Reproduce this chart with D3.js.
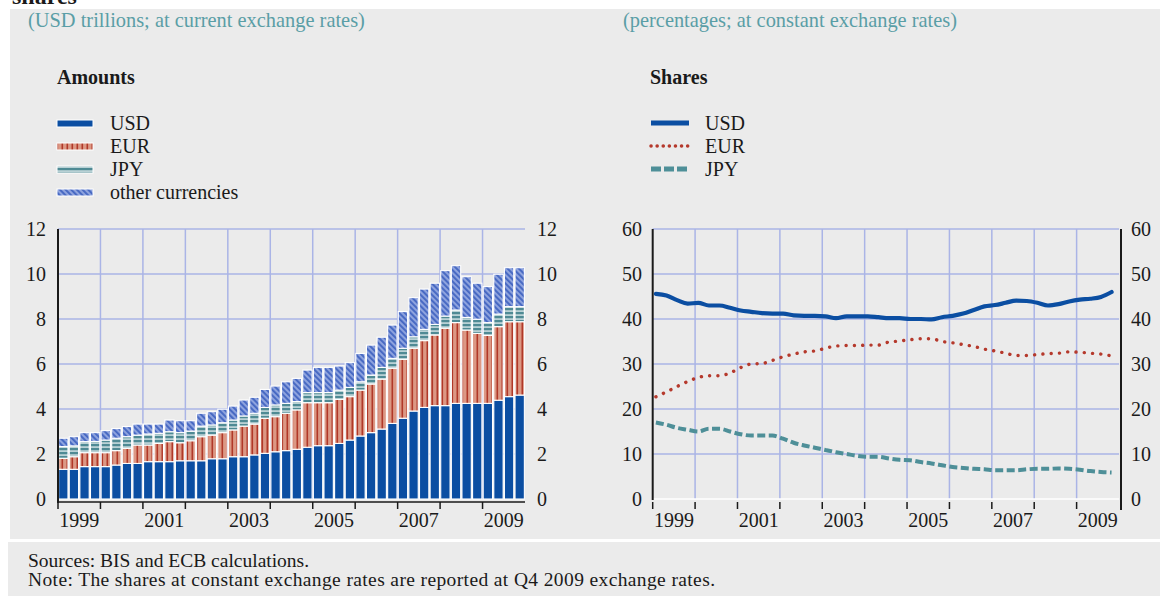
<!DOCTYPE html>
<html>
<head>
<meta charset="utf-8">
<script src="https://cdn.jsdelivr.net/npm/d3@7"></script>
<style>
  body { margin: 0; background: #fff; }
  svg { display: block; font-family: "Liberation Serif", "DejaVu Serif", serif; }
</style>
</head>
<body>
<div id="chart"></div>
<script>
// ---- data ----
var years = [1999, 2000, 2001, 2002, 2003, 2004, 2005, 2006, 2007, 2008, 2009];
var yearLabels = ["1999", "2001", "2003", "2005", "2007", "2009"];
var quarters = [];
years.forEach(y => [1, 2, 3, 4].forEach(q => quarters.push(y + "Q" + q)));

// amounts, USD trillions (stacked)
var amtUSD = [1.32,1.32,1.44,1.44, 1.44,1.51,1.58,1.58, 1.66,1.66,1.66,1.70, 1.70,1.70,1.79,1.79,
              1.88,1.88,1.96,2.03, 2.10,2.15,2.21,2.30, 2.37,2.37,2.47,2.62, 2.80,2.95,3.11,3.36,
              3.59,3.91,4.07,4.15, 4.15,4.25,4.25,4.25, 4.25,4.39,4.55,4.62];
var amtEUR = [0.49,0.56,0.62,0.62, 0.62,0.64,0.67,0.82, 0.74,0.81,0.89,0.80, 0.89,1.07,1.05,1.16,
              1.19,1.36,1.37,1.56, 1.56,1.66,1.75,1.98, 1.91,1.91,1.96,1.93, 2.04,2.16,2.22,2.45,
              2.62,2.79,2.97,3.14, 3.44,3.59,3.26,3.11, 3.02,3.27,3.33,3.26];
var amtJPY = [0.52,0.48,0.49,0.50, 0.56,0.55,0.52,0.44, 0.49,0.45,0.44,0.45, 0.43,0.47,0.45,0.44,
              0.44,0.45,0.48,0.48, 0.52,0.44,0.37,0.45, 0.45,0.45,0.41,0.41, 0.37,0.40,0.52,0.44,
              0.49,0.51,0.50,0.47, 0.54,0.56,0.56,0.63, 0.57,0.56,0.67,0.67];
var amtOther = [0.37,0.41,0.40,0.39, 0.42,0.43,0.45,0.49, 0.44,0.41,0.52,0.53, 0.46,0.57,0.59,0.60,
                0.62,0.71,0.71,0.80, 0.84,0.96,1.03,1.00, 1.12,1.12,1.07,1.10, 1.26,1.33,1.34,1.48,
                1.63,1.74,1.79,1.83, 2.02,1.97,1.81,1.60, 1.60,1.77,1.73,1.73];

// shares, % at constant exchange rates
var shUSD = [45.6,45.2,44.2,43.4, 43.6,43.0,43.0,42.5, 41.9,41.6,41.3,41.2, 41.2,40.8,40.7,40.7,
             40.6,40.2,40.6,40.6, 40.6,40.4,40.2,40.2, 40.0,40.0,39.9,40.4, 40.7,41.2,42.0,42.8,
             43.1,43.6,44.1,44.0, 43.6,43.0,43.3,43.9, 44.3,44.5,44.9,46.0];
var shEUR = [22.7,23.8,25.0,26.1, 27.0,27.4,27.4,28.0, 29.2,30.0,30.1,30.8, 31.6,32.2,32.7,32.9,
             33.5,34.0,34.1,34.1, 34.2,34.2,34.9,35.1, 35.4,35.6,35.6,35.0, 34.7,34.3,33.9,33.3,
             32.9,32.4,31.9,31.9, 32.1,32.3,32.4,32.7, 32.6,32.4,32.2,31.8];
var shJPY = [17.0,16.5,15.8,15.4, 15.0,15.6,15.6,15.0, 14.4,14.1,14.1,14.1, 13.4,12.5,11.9,11.4,
             10.9,10.4,10.0,9.6, 9.4,9.4,9.0,8.7, 8.6,8.2,7.9,7.5, 7.1,6.9,6.7,6.6,
             6.4,6.4,6.4,6.6, 6.7,6.7,6.8,6.7, 6.5,6.2,6.0,5.9];

var leftTicks = [0, 2, 4, 6, 8, 10, 12];
var rightTicks = [0, 10, 20, 30, 40, 50, 60];

// ---- canvas ----
var width = 1160, height = 596;
var svg = d3.select("#chart").append("svg")
    .attr("width", width)
    .attr("height", height);

var grid = "#aab4e6", ink = "#1a1a1a", teal = "#5a9ea6";
var blue = "#0b4ea2", red = "#b5392c", jpyTeal = "#4e8f98";
var fs = 20;

// patterns
var defs = svg.append("defs");
var pEur = defs.append("pattern").attr("id", "pEur").attr("patternUnits", "userSpaceOnUse")
    .attr("width", 5).attr("height", 5);
pEur.append("rect").attr("width", 5).attr("height", 5).attr("fill", "#dc9884");
pEur.append("rect").attr("x", 1.5).attr("width", 1.6).attr("height", 5).attr("fill", "#b03828");

var pJpy = defs.append("pattern").attr("id", "pJpy").attr("patternUnits", "userSpaceOnUse")
    .attr("width", 4).attr("height", 4);
pJpy.append("rect").attr("width", 4).attr("height", 4).attr("fill", "#b9d1d5");
pJpy.append("rect").attr("y", 0).attr("width", 4).attr("height", 2.2).attr("fill", "#4f8a94");

var pOth = defs.append("pattern").attr("id", "pOth").attr("patternUnits", "userSpaceOnUse")
    .attr("width", 4).attr("height", 4).attr("patternTransform", "rotate(-45)");
pOth.append("rect").attr("width", 4).attr("height", 4).attr("fill", "#8ea3de");
pOth.append("rect").attr("width", 1.9).attr("height", 4).attr("fill", "#4567c2");

// background panels
svg.append("text").attr("x", 12).attr("y", 4)
    .attr("font-size", 24).attr("font-weight", "bold").attr("fill", ink).text("shares");
svg.append("rect").attr("x", 10).attr("y", 9).attr("width", 1150).attr("height", 530).attr("fill", "#ebebeb");
svg.append("rect").attr("x", 8).attr("y", 542).attr("width", 1152).attr("height", 54).attr("fill", "#ebebeb");

var yTop = 229, yBot = 499;

// ---- left: amounts ----
var xL = d3.scaleLinear().domain([1999, 2010]).range([58, 525]);
var xB = d3.scaleBand().domain(quarters).range([58, 525]).paddingInner(0.12).paddingOuter(0.06);
var yL = d3.scaleLinear().domain([0, 12]).range([yBot, yTop]);

var gL = svg.append("g");
gL.selectAll("line.h").data(leftTicks.slice(1)).join("line")
    .attr("x1", 58).attr("x2", 525).attr("y1", d => yL(d)).attr("y2", d => yL(d))
    .attr("stroke", grid).attr("stroke-width", 1.5);
gL.selectAll("line.v").data(years.slice(1)).join("line")
    .attr("x1", d => xL(d)).attr("x2", d => xL(d)).attr("y1", yTop).attr("y2", yBot)
    .attr("stroke", grid).attr("stroke-width", 1.5);

var stackData = quarters.map((q, i) => ({q: q, usd: amtUSD[i], eur: amtEUR[i], jpy: amtJPY[i], oth: amtOther[i]}));
var series = d3.stack().keys(["usd", "eur", "jpy", "oth"])(stackData);
var fills = {usd: blue, eur: "url(#pEur)", jpy: "url(#pJpy)", oth: "url(#pOth)"};

gL.selectAll("g.s").data(series).join("g")
    .attr("fill", d => fills[d.key])
  .selectAll("rect").data(d => d).join("rect")
    .attr("x", d => xB(d.data.q))
    .attr("width", xB.bandwidth())
    .attr("y", d => yL(d[1]))
    .attr("height", d => yL(d[0]) - yL(d[1]))
    .attr("stroke", "#fff").attr("stroke-width", 1.1);

gL.append("line").attr("x1", 58).attr("x2", 525).attr("y1", 502).attr("y2", 502)
    .attr("stroke", ink).attr("stroke-width", 1.5);
gL.selectAll("line.t").data(years).join("line")
    .attr("x1", d => xL(d)).attr("x2", d => xL(d)).attr("y1", 502).attr("y2", 509)
    .attr("stroke", ink).attr("stroke-width", 1.5);
gL.append("line").attr("x1", 58).attr("x2", 58).attr("y1", yTop).attr("y2", 503)
    .attr("stroke", ink).attr("stroke-width", 2);

gL.selectAll("text.yl").data(leftTicks).join("text")
    .attr("x", 46).attr("y", d => yL(d)).attr("dy", "0.35em").attr("text-anchor", "end")
    .attr("font-size", fs).attr("fill", ink).text(d => d);
gL.selectAll("text.yr").data(leftTicks).join("text")
    .attr("x", 537).attr("y", d => yL(d)).attr("dy", "0.35em")
    .attr("font-size", fs).attr("fill", ink).text(d => d);
gL.selectAll("text.x").data(yearLabels).join("text")
    .attr("x", d => xL(+d + 0.5)).attr("y", 527).attr("text-anchor", "middle")
    .attr("font-size", fs).attr("fill", ink).text(d => d);

// ---- right: shares ----
var xR = d3.scaleLinear().domain([1999, 2010]).range([652.7, 1119]);
var yR = d3.scaleLinear().domain([0, 60]).range([yBot, yTop]);

var gR = svg.append("g");
gR.selectAll("line.h").data(rightTicks.slice(1)).join("line")
    .attr("x1", 652.7).attr("x2", 1119).attr("y1", d => yR(d)).attr("y2", d => yR(d))
    .attr("stroke", grid).attr("stroke-width", 1.5);
gR.selectAll("line.v").data(years.slice(1)).join("line")
    .attr("x1", d => xR(d)).attr("x2", d => xR(d)).attr("y1", yTop).attr("y2", yBot)
    .attr("stroke", grid).attr("stroke-width", 1.5);
gR.append("line").attr("x1", 652.7).attr("x2", 1119).attr("y1", yBot).attr("y2", yBot)
    .attr("stroke", "#fff").attr("stroke-width", 1.5);

var qx = (d, i) => xR(1999 + (i + 0.3) / 4);
var line = d3.line().x(qx).y(d => yR(d)).curve(d3.curveMonotoneX);

gR.append("path").attr("d", line(shJPY)).attr("fill", "none")
    .attr("stroke", jpyTeal).attr("stroke-width", 4).attr("stroke-dasharray", "8 3.5");
gR.append("path").attr("d", line(shEUR)).attr("fill", "none")
    .attr("stroke", red).attr("stroke-width", 3.4).attr("stroke-linecap", "round")
    .attr("stroke-dasharray", "0.1 8.2");
gR.append("path").attr("d", line(shUSD)).attr("fill", "none")
    .attr("stroke", blue).attr("stroke-width", 4.2).attr("stroke-linecap", "round");

gR.selectAll("line.t").data(years).join("line")
    .attr("x1", d => xR(d)).attr("x2", d => xR(d)).attr("y1", 502).attr("y2", 509)
    .attr("stroke", ink).attr("stroke-width", 1.5);
gR.append("line").attr("x1", 652.7).attr("x2", 652.7).attr("y1", yTop).attr("y2", 500)
    .attr("stroke", ink).attr("stroke-width", 2);
gR.append("line").attr("x1", 1121).attr("x2", 1121).attr("y1", yTop).attr("y2", 510)
    .attr("stroke", ink).attr("stroke-width", 2);

gR.selectAll("text.yl").data(rightTicks).join("text")
    .attr("x", 642).attr("y", d => yR(d)).attr("dy", "0.35em").attr("text-anchor", "end")
    .attr("font-size", fs).attr("fill", ink).text(d => d);
gR.selectAll("text.yr").data(rightTicks).join("text")
    .attr("x", 1131).attr("y", d => yR(d)).attr("dy", "0.35em")
    .attr("font-size", fs).attr("fill", ink).text(d => d);
gR.selectAll("text.x").data(yearLabels).join("text")
    .attr("x", d => xR(+d + 0.5)).attr("y", 527).attr("text-anchor", "middle")
    .attr("font-size", fs).attr("fill", ink).text(d => d);

// ---- titles and legends ----
svg.append("text").attr("x", 28).attr("y", 27).attr("font-size", 20.4).attr("fill", teal)
    .text("(USD trillions; at current exchange rates)");
svg.append("text").attr("x", 623).attr("y", 27).attr("font-size", 20.4).attr("fill", teal)
    .text("(percentages; at constant exchange rates)");
svg.append("text").attr("x", 57).attr("y", 84).attr("font-size", 20).attr("font-weight", "bold")
    .attr("fill", ink).text("Amounts");
svg.append("text").attr("x", 650).attr("y", 84).attr("font-size", 20).attr("font-weight", "bold")
    .attr("fill", ink).text("Shares");

var legL = [["USD", blue], ["EUR", "url(#pEur)"], ["JPY", "url(#pJpy)"], ["other currencies", "url(#pOth)"]];
var lg = svg.append("g").selectAll("g").data(legL).join("g")
    .attr("transform", (d, i) => "translate(0," + (130 + i * 23) + ")");
lg.append("rect").attr("x", 57).attr("y", -10).attr("width", 36).attr("height", 7)
    .attr("fill", d => d[1]).attr("stroke", "#fff").attr("stroke-width", 1);
lg.append("text").attr("x", 110).attr("font-size", fs).attr("fill", ink).text(d => d[0]);

var legR = [["USD", blue, null, 5], ["EUR", red, "0.1 6", 3.5], ["JPY", jpyTeal, "10 3", 5]];
var rg = svg.append("g").selectAll("g").data(legR).join("g")
    .attr("transform", (d, i) => "translate(0," + (130 + i * 23) + ")");
rg.append("line").attr("x1", 651).attr("x2", 689).attr("y1", -7).attr("y2", -7)
    .attr("stroke", d => d[1]).attr("stroke-width", d => d[3])
    .attr("stroke-dasharray", d => d[2])
    .attr("stroke-linecap", d => d[2] && d[0] == "EUR" ? "round" : "butt");
rg.append("text").attr("x", 705).attr("font-size", fs).attr("fill", ink).text(d => d[0]);

// ---- footer ----
svg.append("text").attr("x", 28).attr("y", 567).attr("font-size", 19.5).attr("fill", ink)
    .text("Sources: BIS and ECB calculations.");
svg.append("text").attr("x", 28).attr("y", 586).attr("font-size", 19.5).attr("fill", ink)
    .attr("textLength", 687).attr("lengthAdjust", "spacing")
    .text("Note: The shares at constant exchange rates are reported at Q4 2009 exchange rates.");
</script>
</body>
</html>
